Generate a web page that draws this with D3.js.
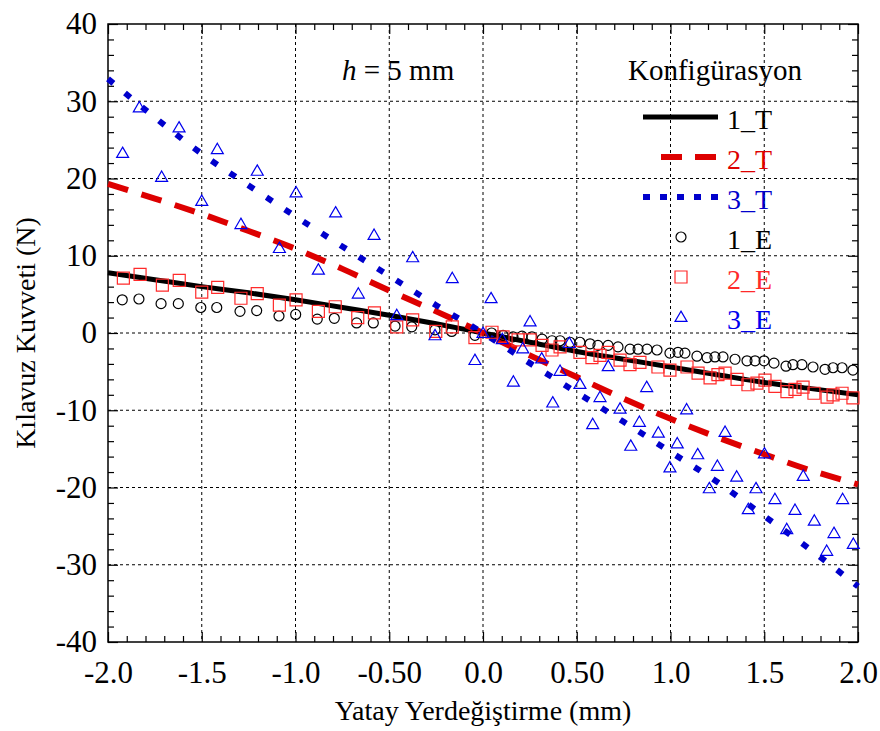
<!DOCTYPE html>
<html>
<head>
<meta charset="utf-8">
<script src="https://cdn.jsdelivr.net/npm/d3@7"></script>
<style>
  body { margin: 0; background: #fff; }
  svg text { font-family: 'Liberation Serif', 'DejaVu Serif', serif; }
</style>
</head>
<body>
<div id="chart"></div>
<script>
// axis ticks
const xTicks = [-2, -1.5, -1, -0.5, 0, 0.5, 1, 1.5, 2];
const xTickLabels = ['-2.0', '-1.5', '-1.0', '-0.50', '0.0', '0.50', '1.0', '1.5', '2.0'];
const yTicks = [-40, -30, -20, -10, 0, 10, 20, 30, 40];
const yTickLabels = ['-40', '-30', '-20', '-10', '0', '10', '20', '30', '40'];

// theoretical curves (1_T, 2_T, 3_T)
const theoryX = [-2, -1.75, -1.5, -1.25, -1, -0.75, -0.5, -0.25, 0, 0.25, 0.5, 0.75, 1, 1.25, 1.5, 1.75, 2];
const theory1 = [7.8, 6.9, 6.0, 5.2, 4.3, 3.3, 2.3, 1.2, 0, -1.2, -2.4, -3.4, -4.4, -5.4, -6.4, -7.2, -8.0];
const theory2 = [19.3, 17.4, 15.4, 13.2, 10.9, 8.3, 5.5, 2.8, 0, -2.9, -5.7, -8.5, -11.1, -13.5, -15.7, -17.8, -19.6];
const theory3 = [32.9, 27.9, 23.2, 19.1, 15.1, 11.2, 7.4, 3.6, 0, -3.9, -7.7, -11.5, -15.4, -19.3, -23.7, -28.1, -32.8];

// experimental points 1_E
const exp1X = [-1.924, -1.835, -1.717, -1.625, -1.505, -1.42, -1.296, -1.207, -1.088, -0.999, -0.884, -0.793,
  -0.674, -0.585, -0.469, -0.38, -0.256, -0.167, -0.043, 0.046, 0.107, 0.16, 0.208, 0.261, 0.315, 0.368,
  0.411, 0.464, 0.517, 0.571, 0.613, 0.667, 0.72, 0.784, 0.827, 0.875, 0.928, 0.997, 1.04, 1.077, 1.141,
  1.195, 1.237, 1.28, 1.344, 1.408, 1.451, 1.499, 1.552, 1.616, 1.653, 1.701, 1.76, 1.824, 1.867, 1.915, 1.973];
const exp1Y = [4.3, 4.4, 3.8, 3.8, 3.3, 3.3, 2.8, 2.9, 2.2, 2.4, 1.8, 1.9,
  1.3, 1.3, 0.9, 0.8, 0.4, 0.2, -0.3, 0.0, -0.3, -0.5, -0.4, -0.5, -0.8, -1.0,
  -1.0, -1.2, -1.2, -1.4, -1.6, -1.6, -1.8, -2.1, -2.1, -2.1, -2.2, -2.6, -2.5, -2.6, -3.0,
  -3.2, -3.1, -3.1, -3.4, -3.6, -3.6, -3.6, -3.9, -4.3, -4.1, -4.1, -4.4, -4.7, -4.5, -4.5, -4.8];

// experimental points 2_E
const exp2X = [-1.918, -1.829, -1.71, -1.62, -1.5, -1.415, -1.291, -1.204, -1.086, -0.997, -0.878, -0.788,
  -0.668, -0.579, -0.46, -0.375, -0.252, -0.164, -0.043, 0.048, 0.107, 0.187, 0.251, 0.315, 0.368, 0.411,
  0.517, 0.581, 0.624, 0.667, 0.731, 0.784, 0.837, 0.933, 0.997, 1.088, 1.147, 1.211, 1.253, 1.291, 1.355,
  1.413, 1.461, 1.504, 1.557, 1.621, 1.664, 1.707, 1.765, 1.835, 1.867, 1.915, 1.973];
const exp2Y = [7.1, 7.6, 6.2, 6.8, 5.3, 5.9, 4.5, 5.1, 3.6, 4.3, 2.8, 3.4,
  2.0, 2.6, 0.8, 1.7, 0.2, 0.8, -0.6, 0.1, -0.5, -0.9, -0.9, -1.6, -2.2, -1.8,
  -2.5, -3.2, -2.9, -2.5, -3.5, -4.1, -3.8, -4.4, -4.8, -4.4, -5.2, -5.8, -5.4, -5.2, -6.0,
  -6.7, -6.5, -6.1, -6.9, -7.6, -7.3, -7.0, -7.8, -8.3, -8.0, -7.8, -8.4];

// experimental points 3_E
const exp3X = [-1.922, -1.833, -1.714, -1.621, -1.5, -1.417, -1.291, -1.204, -1.086, -0.997, -0.878, -0.786,
  -0.665, -0.581, -0.46, -0.375, -0.256, -0.164, -0.043, 0, 0.043, 0.103, 0.162, 0.212, 0.251, 0.313,
  0.372, 0.411, 0.46, 0.517, 0.585, 0.624, 0.668, 0.731, 0.788, 0.834, 0.873, 0.935, 0.997, 1.036, 1.086,
  1.145, 1.207, 1.25, 1.291, 1.353, 1.415, 1.456, 1.501, 1.557, 1.62, 1.664, 1.708, 1.767, 1.833, 1.872,
  1.918, 1.975];
const exp3Y = [23.3, 29.2, 20.2, 26.6, 17.1, 23.8, 14.1, 21.0, 11.0, 18.2, 8.2, 15.6,
  5.1, 12.7, 2.3, 9.8, -0.3, 7.1, -3.5, 0, 4.5, -0.8, -6.3, -2.0, 1.5, -3.3,
  -9.0, -4.9, -1.3, -6.6, -11.8, -8.3, -4.3, -9.8, -14.6, -11.5, -7.0, -12.9, -17.4, -14.3, -9.9,
  -15.7, -20.1, -17.2, -12.8, -18.6, -22.8, -20.1, -15.6, -21.5, -25.4, -22.9, -18.5, -24.3, -28.2, -25.9,
  -21.5, -27.3];

const legendLabels = ['1_T', '2_T', '3_T', '1_E', '2_E', '3_E'];

const width = 880;
const height = 731;
const margin = { top: 24, right: 22, bottom: 89, left: 108 };
const plotWidth = width - margin.left - margin.right;
const plotHeight = height - margin.top - margin.bottom;
const serif = "'Liberation Serif', 'DejaVu Serif', serif";

const colors = {
  black: '#000000',
  red: '#dd0000',
  blue: '#0000cc',
  redMark: '#ff2a2a',
  blueMark: '#0000ee'
};

const svg = d3
  .select('#chart')
  .append('svg')
  .attr('width', width)
  .attr('height', height)
  .attr('font-family', serif);

const g = svg
  .append('g')
  .attr('transform', `translate(${margin.left}, ${margin.top})`);

const xScale = d3.scaleLinear().domain([-2, 2]).range([0, plotWidth]);
const yScale = d3.scaleLinear().domain([-40, 40]).range([plotHeight, 0]);

const xMinor = d3.range(-20, 21).map((d) => d / 10).filter((d) => !xTicks.some((t) => Math.abs(t - d) < 1e-9));
const yMinor = d3.range(-40, 41, 2).filter((d) => d % 10 !== 0);

// dotted grid
g.append('g')
  .selectAll('line')
  .data(xTicks.slice(1, -1))
  .enter()
  .append('line')
  .attr('x1', (d) => xScale(d))
  .attr('x2', (d) => xScale(d))
  .attr('y1', 0)
  .attr('y2', plotHeight)
  .attr('stroke', '#000')
  .attr('stroke-width', 1)
  .attr('stroke-dasharray', '3,3');

g.append('g')
  .selectAll('line')
  .data(yTicks.slice(1, -1))
  .enter()
  .append('line')
  .attr('x1', 0)
  .attr('x2', plotWidth)
  .attr('y1', (d) => yScale(d))
  .attr('y2', (d) => yScale(d))
  .attr('stroke', '#000')
  .attr('stroke-width', 1)
  .attr('stroke-dasharray', '3,3');

// axes with inward ticks
const styleAxis = (sel) => {
  sel.attr('font-family', serif);
  sel.select('.domain').remove();
  sel.selectAll('line').attr('stroke', '#000').attr('stroke-width', 1.2);
  sel.selectAll('text').attr('font-size', 31).attr('fill', '#000');
};

g.append('g')
  .attr('transform', `translate(0, ${plotHeight})`)
  .call(d3.axisBottom(xScale).tickValues(xTicks).tickSize(-10).tickPadding(19)
    .tickFormat((d, i) => xTickLabels[i]))
  .call(styleAxis);
g.append('g')
  .attr('transform', `translate(0, ${plotHeight})`)
  .call(d3.axisBottom(xScale).tickValues(xMinor).tickSize(-6).tickFormat(''))
  .call(styleAxis);
g.append('g')
  .call(d3.axisTop(xScale).tickValues(xTicks).tickSize(-10).tickFormat(''))
  .call(styleAxis);
g.append('g')
  .call(d3.axisTop(xScale).tickValues(xMinor).tickSize(-6).tickFormat(''))
  .call(styleAxis);

g.append('g')
  .call(d3.axisLeft(yScale).tickValues(yTicks).tickSize(-10).tickPadding(11)
    .tickFormat((d, i) => yTickLabels[i]))
  .call(styleAxis);
g.append('g')
  .call(d3.axisLeft(yScale).tickValues(yMinor).tickSize(-6).tickFormat(''))
  .call(styleAxis);
g.append('g')
  .attr('transform', `translate(${plotWidth}, 0)`)
  .call(d3.axisRight(yScale).tickValues(yTicks).tickSize(-10).tickFormat(''))
  .call(styleAxis);
g.append('g')
  .attr('transform', `translate(${plotWidth}, 0)`)
  .call(d3.axisRight(yScale).tickValues(yMinor).tickSize(-6).tickFormat(''))
  .call(styleAxis);

// frame
g.append('rect')
  .attr('x', 0)
  .attr('y', 0)
  .attr('width', plotWidth)
  .attr('height', plotHeight)
  .attr('fill', 'none')
  .attr('stroke', '#000')
  .attr('stroke-width', 1.5);

// theoretical lines
const line = d3
  .line()
  .x((d) => xScale(d[0]))
  .y((d) => yScale(d[1]))
  .curve(d3.curveMonotoneX);

const lineStyles = [
  { values: theory1, color: colors.black, width: 5, dash: null },
  { values: theory2, color: colors.red, width: 6, dash: '21,14' },
  { values: theory3, color: colors.blue, width: 6, dash: '7,15' }
];

lineStyles.forEach((s) => {
  g.append('path')
    .datum(theoryX.map((x, i) => [x, s.values[i]]))
    .attr('fill', 'none')
    .attr('stroke', s.color)
    .attr('stroke-width', s.width)
    .attr('stroke-dasharray', s.dash)
    .attr('d', line);
});

// experimental markers
const circleSym = d3.symbol().type(d3.symbolCircle).size(Math.PI * 25);
const squareSym = d3.symbol().type(d3.symbolSquare).size(144);
const triSym = d3.symbol().type(d3.symbolTriangle).size(62);

const markerSets = [
  { xs: exp1X, ys: exp1Y, sym: circleSym, color: colors.black, dy: 0 },
  { xs: exp2X, ys: exp2Y, sym: squareSym, color: colors.redMark, dy: 0 },
  { xs: exp3X, ys: exp3Y, sym: triSym, color: colors.blueMark, dy: 1 }
];

markerSets.forEach((m) => {
  g.append('g')
    .selectAll('path')
    .data(m.xs.map((x, i) => [x, m.ys[i]]))
    .enter()
    .append('path')
    .attr('d', m.sym())
    .attr('transform', (d) => `translate(${xScale(d[0])}, ${yScale(d[1]) + m.dy})`)
    .attr('fill', 'none')
    .attr('stroke', m.color)
    .attr('stroke-width', 1.2);
});

// annotation
const note = svg
  .append('text')
  .attr('x', 342)
  .attr('y', 80)
  .attr('font-size', 29)
  .attr('fill', '#000');
note.append('tspan').attr('font-style', 'italic').text('h');
note.append('tspan').text(' = 5 mm');

// legend
svg.append('text')
  .attr('x', 628)
  .attr('y', 80)
  .attr('font-size', 29)
  .attr('fill', '#000')
  .text('Konfigürasyon');

const legendColors = [colors.black, colors.red, colors.blue, colors.black, colors.redMark, colors.blueMark];
const legendY = (i) => 117 + i * 40;

legendLabels.forEach((label, i) => {
  const y = legendY(i);
  if (i < 3) {
    const s = lineStyles[i];
    svg.append('line')
      .attr('x1', i === 1 ? 661 : 643)
      .attr('x2', 718)
      .attr('y1', y)
      .attr('y2', y)
      .attr('stroke', s.color)
      .attr('stroke-width', s.width)
      .attr('stroke-dasharray', i === 1 ? '21,13' : i === 2 ? '7,10' : null);
  } else {
    const m = markerSets[i - 3];
    svg.append('path')
      .attr('d', m.sym())
      .attr('transform', `translate(681, ${y + m.dy})`)
      .attr('fill', 'none')
      .attr('stroke', m.color)
      .attr('stroke-width', 1.2);
  }
  svg.append('text')
    .attr('x', 727)
    .attr('y', y + 12)
    .attr('font-size', 28)
    .attr('fill', legendColors[i])
    .text(label);
});

// axis titles
svg.append('text')
  .attr('x', margin.left + plotWidth / 2)
  .attr('y', 720)
  .attr('text-anchor', 'middle')
  .attr('font-size', 28)
  .attr('fill', '#000')
  .text('Yatay Yerdeğiştirme (mm)');

svg.append('text')
  .attr('transform', `translate(35, ${margin.top + plotHeight / 2}) rotate(-90)`)
  .attr('text-anchor', 'middle')
  .attr('font-size', 28)
  .attr('fill', '#000')
  .text('Kılavuz Kuvveti (N)');
</script>
</body>
</html>
